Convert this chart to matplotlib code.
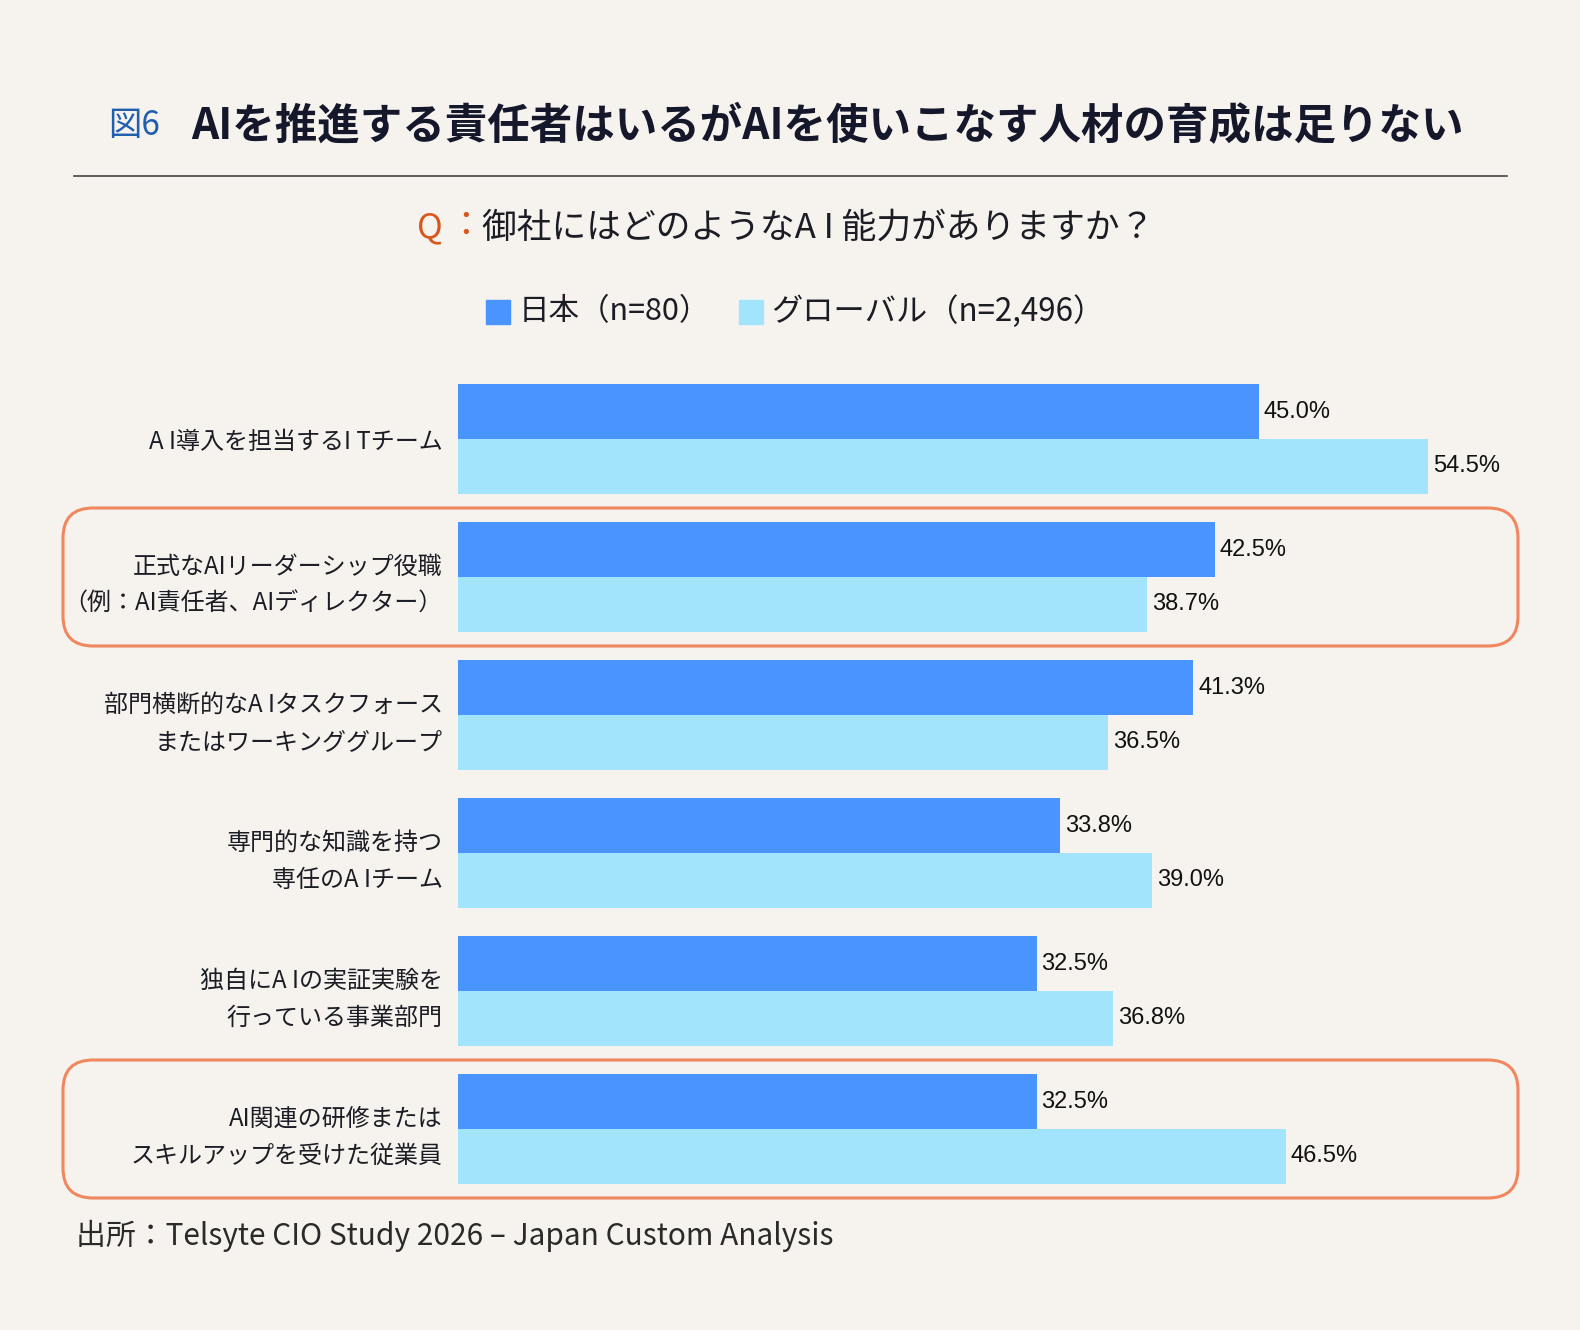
import numpy as np
import matplotlib.pyplot as plt
from matplotlib.patches import FancyBboxPatch, Rectangle

plt.rcParams['font.family'] = ['Noto Sans CJK JP', 'DejaVu Sans']

categories = [
    'A I導入を担当するI Tチーム',
    '正式なAIリーダーシップ役職\n（例：AI責任者、AIディレクター）',
    '部門横断的なA Iタスクフォース\nまたはワーキンググループ',
    '専門的な知識を持つ\n専任のA Iチーム',
    '独自にA Iの実証実験を\n行っている事業部門',
    'AI関連の研修または\nスキルアップを受けた従業員',
]
japan = [45.0, 42.5, 41.3, 33.8, 32.5, 32.5]
global_ = [54.5, 38.7, 36.5, 39.0, 36.8, 46.5]
highlight = [1, 5]
series_names = ['日本（n=80）', 'グローバル（n=2,496）']

c_jp = '#4A94FF'
c_gl = '#A3E4FD'
bg = '#F6F3EF'
orange = '#F0875E'
ink = '#1C1C24'

W, H = 1580, 1330
fig = plt.figure(figsize=(W / 100, H / 100), dpi=100, facecolor=bg)

# pixel canvas for titles, boxes, legend
cv = fig.add_axes([0, 0, 1, 1], zorder=0)
cv.set_xlim(0, W)
cv.set_ylim(H, 0)
cv.axis('off')

ax = fig.add_axes([458 / W, 1 - 1184 / H, 1068 / W, 800 / H], zorder=2)
ax.patch.set_alpha(0)
bh = 55 / 138
y = np.arange(len(categories))
b1 = ax.barh(y - bh / 2, japan, height=bh, color=c_jp)
b2 = ax.barh(y + bh / 2, global_, height=bh, color=c_gl)
ax.set_xlim(0, 60)
ax.set_ylim(len(categories) - 1 + bh, -bh)
for bars, vals in ((b1, japan), (b2, global_)):
    for r, v in zip(bars, vals):
        ax.annotate(f'{v:.1f}%', (v, r.get_y() + r.get_height() / 2),
                    xytext=(5, 0), textcoords='offset pixels', va='center',
                    ha='left', fontsize=17, family=['Liberation Sans'], color='#111111')
ax.set_yticks(y)
ax.set_yticklabels(categories, fontsize=17.3, color=ink, linespacing=1.55)
ax.tick_params(axis='y', length=0, pad=11)
ax.set_xticks([])
for s in ax.spines.values():
    s.set_visible(False)

# highlight boxes around groups
fig.canvas.draw()
to_px = lambda yy: H - ax.transData.transform((0, yy))[1]
for i in highlight:
    top, bot = to_px(i - 0.5), to_px(i + 0.5)
    cv.add_patch(FancyBboxPatch((63, top), 1518 - 63, bot - top,
                                boxstyle='round,pad=0,rounding_size=30',
                                fill=False, ec=orange, lw=2.2))

# title
cv.text(108, 126, '図6', fontsize=24, color='#1F5FAE', va='center', ha='left')
cv.text(191, 126, 'AIを推進する責任者はいるがAIを使いこなす人材の育成は足りない',
        fontsize=30.6, fontweight='bold', color='#15172B', va='center', ha='left')
cv.plot([74, 1507], [176, 176], color='#444444', lw=1.2)

# question
cv.text(417, 228, 'Q', fontsize=25, color='#D9561C', va='center', ha='left')
cv.text(448, 226, '：', fontsize=25, color='#D9561C', va='center', ha='left')
cv.text(482, 228, '御社にはどのようなA I 能力がありますか？', fontsize=25,
        color=ink, va='center', ha='left')

# legend
cv.add_patch(Rectangle((486, 300), 24, 24, color=c_jp))
cv.text(519, 312, series_names[0], fontsize=22, color=ink, va='center', ha='left')
cv.add_patch(Rectangle((739, 300), 24, 24, color=c_gl))
cv.text(771, 312, series_names[1], fontsize=22.5, color=ink, va='center', ha='left')

# source
cv.text(76, 1236, '出所：Telsyte CIO Study 2026 – Japan Custom Analysis',
        fontsize=21.5, color='#2A2A2A', va='center', ha='left')

fig.savefig('out.png', dpi=100, facecolor=bg)
